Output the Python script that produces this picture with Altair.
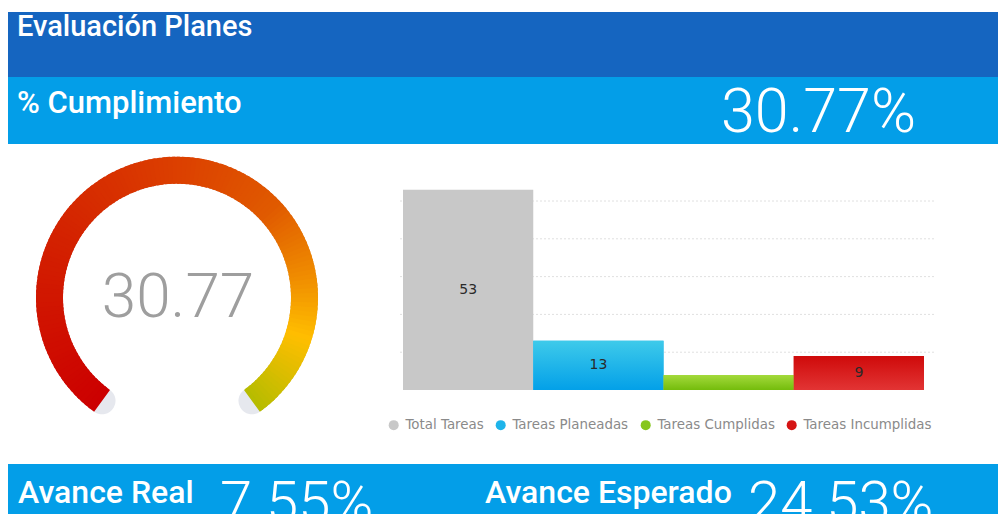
import altair as alt
import pandas as pd

# ---------------- data ----------------
TITLE = ["Evaluación Planes"]
KPI_LABEL = ["% Cumplimiento"]
KPI_VALUE = [30.77]
GAUGE_VALUE = [30.77]

CATEGORIES = ["Total Tareas", "Tareas Planeadas", "Tareas Cumplidas", "Tareas Incumplidas"]
COUNTS = [53, 13, 4, 9]
BAR_COLORS = ["#C8C8C8", "#1EB4EA", "#86C61C", "#D51414"]
BAR_GRADIENTS = {
    "Tareas Planeadas": ("#3ECAEA", "#03A0E8"),
    "Tareas Cumplidas": ("#A4DA3C", "#74BC0C"),
    "Tareas Incumplidas": ("#CF0A0A", "#E23434"),
}
GRID_TICKS = [10, 20, 30, 40, 50]

FOOTER_LABELS = ["Avance Real", "Avance Esperado"]
FOOTER_VALUES = [7.55, 24.53]

GAUGE_STOPS = [0.0, 0.3, 0.5, 0.66, 0.78, 0.87, 1.0]
GAUGE_COLORS = ["#CC0000", "#D42400", "#DC4000", "#E05A00", "#F08E00", "#FFBE00", "#B3BC00"]
GAUGE_SPAN = 144      # degrees each side of 12 o'clock
N_SEG = 144

# ---------------- layout ----------------
W, H = 990, 506
DARK = "#1565C0"
LIGHT = "#039EE8"
FONT = "Roboto"
CX, CY = 169, 289.7
R_OUT, R_IN = 141, 114

def band(y0, y1, color):
    return alt.Chart(pd.DataFrame({"b": [0]})).mark_rect(color=color).encode(
        x=alt.value(-2), x2=alt.value(W), y=alt.value(y0), y2=alt.value(y1)
    )

bands = [band(4, 69, DARK), band(69, 136, LIGHT), band(456, H, LIGHT)]

title = alt.Chart(pd.DataFrame({"t": TITLE})).mark_text(
    align="left", baseline="alphabetic", font=FONT, fontSize=29, fontWeight=500, color="white"
).encode(text="t:N", x=alt.value(9), y=alt.value(28))

kpi_label = alt.Chart(pd.DataFrame({"t": KPI_LABEL})).mark_text(
    align="left", baseline="alphabetic", font=FONT, fontSize=31, fontWeight=500, color="white"
).encode(text="t:N", x=alt.value(9), y=alt.value(105))

kpi_value = alt.Chart(pd.DataFrame({"v": KPI_VALUE})).transform_calculate(
    lab="format(datum.v, '.2f') + '%'"
).mark_text(
    align="left", baseline="alphabetic", font=FONT, fontSize=61, fontWeight=300, color="white"
).encode(text="lab:N", x=alt.value(713), y=alt.value(124))

footer_df = pd.DataFrame({"label": FOOTER_LABELS, "value": FOOTER_VALUES})
footer_pos = {"Avance Real": (10, 212), "Avance Esperado": (477, 740)}
footer_layers = []
for lab, (xl, xv) in footer_pos.items():
    base = alt.Chart(footer_df).transform_filter(alt.datum.label == lab)
    footer_layers.append(
        base.mark_text(align="left", baseline="alphabetic", font=FONT, fontSize=32,
                       fontWeight=500, color="white")
        .encode(text="label:N", x=alt.value(xl), y=alt.value(495))
    )
    footer_layers.append(
        base.transform_calculate(lab="format(datum.value, '.2f') + '%'")
        .mark_text(align="left", baseline="alphabetic", font=FONT, fontSize=58,
                   fontWeight=300, color="white")
        .encode(text="lab:N", x=alt.value(xv), y=alt.value(514))
    )

# ---------------- gauge ----------------
PI = 3.141592653589793
track_pad = 13.5 / ((R_OUT + R_IN) / 2) * 180 / PI
track = alt.Chart(pd.DataFrame({"g": [0]})).mark_arc(
    radius=R_OUT, radius2=R_IN, cornerRadius=13.5, color="#E6E8EE"
).encode(
    x=alt.value(CX), y=alt.value(CY),
    theta=alt.value((360 - GAUGE_SPAN - track_pad) * PI / 180),
    theta2=alt.value((360 + GAUGE_SPAN + track_pad) * PI / 180),
)

gauge = alt.Chart(alt.sequence(0, N_SEG, as_="i")).transform_calculate(
    t=f"datum.i / {N_SEG}",
    a0=f"(360 - {GAUGE_SPAN} + 2 * {GAUGE_SPAN} * datum.i / {N_SEG}) * PI / 180",
    a1=f"(360 - {GAUGE_SPAN} + 2 * {GAUGE_SPAN} * (datum.i + 1.6) / {N_SEG}) * PI / 180",
    a1c=f"min(datum.a1, (360 + {GAUGE_SPAN}) * PI / 180)",
).mark_arc(radius=R_OUT, radius2=R_IN).encode(
    x=alt.value(CX), y=alt.value(CY),
    theta=alt.Theta("a0:Q", scale=None),
    theta2="a1c:Q",
    color=alt.Color("t:Q", scale=alt.Scale(domain=GAUGE_STOPS, range=GAUGE_COLORS,
                                           interpolate="rgb"), legend=None),
)

gauge_text = alt.Chart(pd.DataFrame({"v": GAUGE_VALUE})).mark_text(
    align="center", baseline="alphabetic", font=FONT, fontSize=62, fontWeight=300, color="#9E9E9E"
).encode(text=alt.Text("v:Q", format=".2f"), x=alt.value(CX + 1), y=alt.value(309))

# ---------------- bars ----------------
bar_df = pd.DataFrame({"category": CATEGORIES, "count": COUNTS})
xs = alt.Scale(domain=CATEGORIES, range=[395, 916], paddingInner=0, paddingOuter=0)
ys = alt.Scale(domain=[0, 50], range=[382, 193], zero=True, nice=False)

grid = alt.Chart(pd.DataFrame({"tick": GRID_TICKS})).mark_rule(
    color="#E0E0E0", strokeDash=[2, 2], strokeWidth=1
).encode(y=alt.Y("tick:Q", scale=ys, axis=None), x=alt.value(392), x2=alt.value(927))

bars = alt.Chart(bar_df).mark_bar().encode(
    x=alt.X("category:N", scale=xs, axis=None, sort=CATEGORIES),
    y=alt.Y("count:Q", scale=ys, axis=None),
    color=alt.Color(
        "category:N",
        scale=alt.Scale(domain=CATEGORIES, range=BAR_COLORS),
        sort=CATEGORIES,
        legend=alt.Legend(
            orient="none", legendX=379, legendY=410, direction="horizontal", title=None,
            symbolType="circle", symbolSize=100, symbolStrokeWidth=0,
            labelFont="DejaVu Sans", labelFontSize=13.4, labelColor="#8A8A8A",
            columnPadding=10, labelOffset=5,
        ),
    ),
)

grad_layers = []
for cat, (c_top, c_bot) in BAR_GRADIENTS.items():
    grad_layers.append(
        alt.Chart(bar_df).transform_filter(alt.datum.category == cat).mark_bar(
            color=alt.Gradient(
                gradient="linear",
                stops=[alt.GradientStop(color=c_top, offset=0), alt.GradientStop(color=c_bot, offset=1)],
                x1=0, x2=0, y1=0, y2=1,
            )
        ).encode(
            x=alt.X("category:N", scale=xs, axis=None, sort=CATEGORIES),
            y=alt.Y("count:Q", scale=ys, axis=None),
        )
    )

labels = alt.Chart(bar_df).transform_filter("datum.count >= 5").transform_calculate(
    mid="datum.count / 2"
).mark_text(font="DejaVu Sans", fontSize=14, color="#2A2A2A", baseline="middle").encode(
    x=alt.X("category:N", scale=xs, axis=None, sort=CATEGORIES),
    y=alt.Y("mid:Q", scale=ys, axis=None),
    text="count:Q",
)

chart = alt.layer(
    *bands, title, kpi_label, kpi_value, *footer_layers,
    track, gauge, gauge_text,
    grid, bars, *grad_layers, labels,
).resolve_scale(color="independent").properties(
    width=W, height=H, padding=0, autosize=alt.AutoSizeParams(type="none")
).configure_view(stroke=None)

chart.save("out.html", embed_options={"renderer": "svg", "actions": False})
